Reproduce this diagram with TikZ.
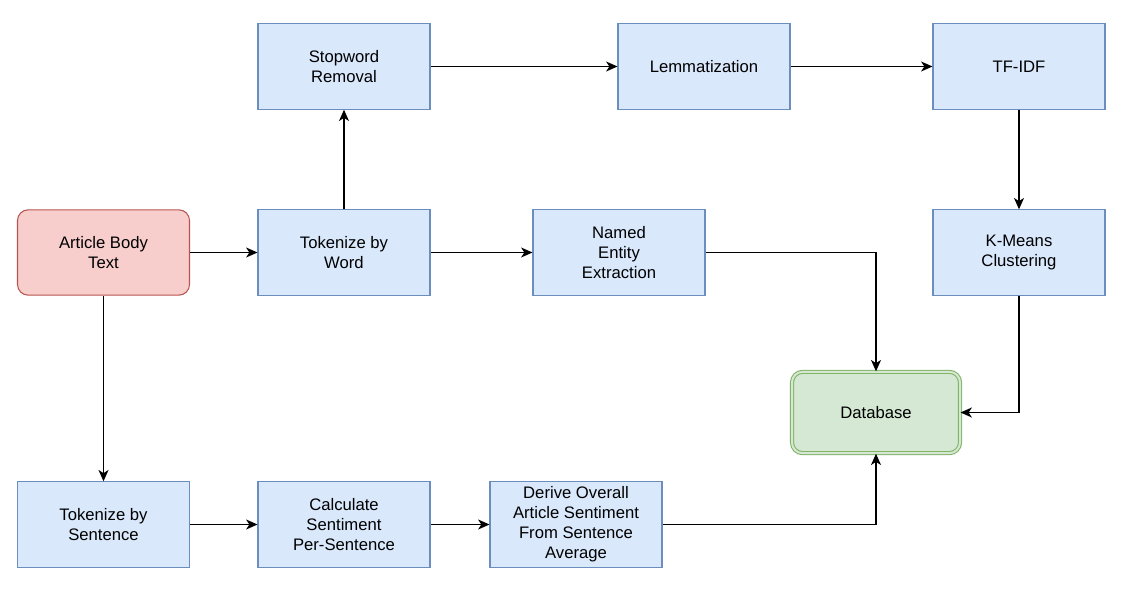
\documentclass[tikz,border=0pt]{standalone}
\usepackage{fontspec}
\setmainfont{Liberation Sans}
\usetikzlibrary{arrows.meta}
\definecolor{bfill}{HTML}{DAE8FC}
\definecolor{bdraw}{HTML}{6C8EBF}
\definecolor{rfill}{HTML}{F8CECC}
\definecolor{rdraw}{HTML}{B85450}
\definecolor{gfill}{HTML}{D5E8D4}
\definecolor{gdraw}{HTML}{82B366}
\begin{document}
\begin{tikzpicture}[x=0.75pt,y=-0.75pt,
  box/.style={draw=bdraw,fill=bfill,line width=0.8pt,minimum width=129pt,minimum height=64pt,
    align=center,font=\fontsize{12.5}{15}\selectfont,inner sep=2pt},
  redbox/.style={box,draw=rdraw,fill=rfill,rounded corners=8pt},
  dbbox/.style={box,draw=gdraw,fill=gfill,rounded corners=8pt,double=gfill,double distance=1.5pt,
    minimum width=126pt,minimum height=61pt},
  conn/.style={line width=0.9pt,-{Stealth[length=8.5pt,width=7.5pt,inset=2.4pt]}}]
\useasboundingbox (0,0) rectangle (1121,599);
\node[redbox] (art) at (103.5,252.5) {Article Body\\Text};
\node[box] (tw) at (344,252.5) {Tokenize by\\Word};
\node[box] (sw) at (344,66.5) {Stopword\\Removal};
\node[box] (lem) at (704,66.5) {Lemmatization};
\node[box] (tfidf) at (1019,66.5) {TF-IDF};
\node[box] (ner) at (619,252.5) {Named\\Entity\\Extraction};
\node[box] (km) at (1019,252.5) {K-Means\\Clustering};
\node[dbbox] (db) at (876,412.5) {Database};
\node[box] (ts) at (103.5,524.5) {Tokenize by\\Sentence};
\node[box] (cs) at (344,524.5) {Calculate\\Sentiment\\Per-Sentence};
\node[box] (ds) at (576,524.5) {Derive Overall\\Article Sentiment\\From Sentence\\Average};
\draw[conn] (art) -- (tw);
\draw[conn] (art) -- (ts);
\draw[conn] (tw) -- (sw);
\draw[conn] (tw) -- (ner);
\draw[conn] (sw) -- (lem);
\draw[conn] (lem) -- (tfidf);
\draw[conn] (tfidf) -- (km);
\draw[conn] (km.south) |- (db.east);
\draw[conn] (ner.east) -| (db.north);
\draw[conn] (ts) -- (cs);
\draw[conn] (cs) -- (ds);
\draw[conn] (ds.east) -| (db.south);
\end{tikzpicture}
\end{document}
